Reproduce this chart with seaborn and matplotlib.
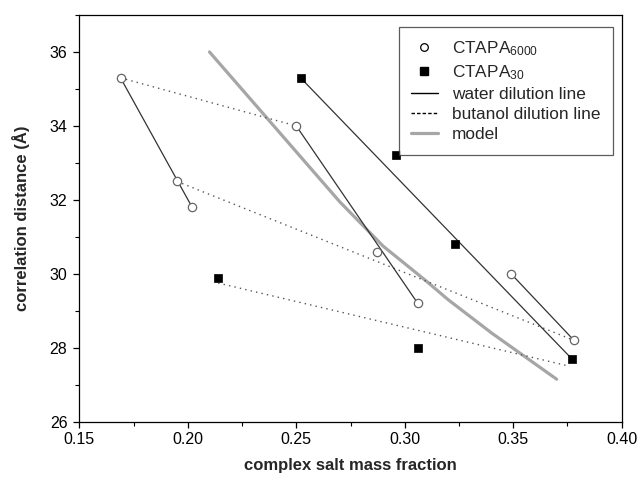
import numpy as np
import pandas as pd
import matplotlib
matplotlib.use("Agg")
import matplotlib.pyplot as plt
from matplotlib.lines import Line2D
from matplotlib.ticker import MultipleLocator
import seaborn as sns

# ---- data ----
ctapa6000_x = [0.169, 0.195, 0.202, 0.250, 0.287, 0.306, 0.349, 0.378]
ctapa6000_y = [35.3, 32.5, 31.8, 34.0, 30.6, 29.2, 30.0, 28.2]

ctapa30_x = [0.252, 0.296, 0.323, 0.377, 0.214, 0.306]
ctapa30_y = [35.3, 33.2, 30.8, 27.7, 29.9, 28.0]

# water dilution lines (solid), one segment each: (x0, x1), (y0, y1)
water_x = [(0.169, 0.202), (0.250, 0.306), (0.252, 0.377), (0.349, 0.378)]
water_y = [(35.3, 31.8), (34.0, 29.2), (35.3, 27.7), (30.0, 28.2)]

# butanol dilution lines (dotted)
butanol_x = [(0.169, 0.250), (0.195, 0.378), (0.214, 0.376)]
butanol_y = [(35.3, 34.0), (32.5, 28.2), (29.75, 27.5)]

# model curve
model_x = [0.210, 0.230, 0.250, 0.270, 0.290, 0.310, 0.320, 0.340, 0.370]
model_y = [36.0, 34.65, 33.3, 31.95, 30.75, 29.8, 29.3, 28.4, 27.15]

legend_labels = [r"CTAPA$_{6000}$", r"CTAPA$_{30}$", "water dilution line",
                 "butanol dilution line", "model"]
x_label = "complex salt mass fraction"
y_label = "correlation distance (Å)"


def segments_df(xs, ys):
    rows = []
    for i, (sx, sy) in enumerate(zip(xs, ys)):
        for xv, yv in zip(sx, sy):
            rows.append({"seg": i, "x": xv, "y": yv})
    return pd.DataFrame(rows)


sns.set_style("ticks")
plt.rcParams["font.family"] = ["Liberation Sans", "DejaVu Sans"]
plt.rcParams["mathtext.default"] = "regular"

fig = plt.figure(figsize=(6.38, 4.82), dpi=100)
ax = fig.add_axes([0.1243, 0.1251, 0.8502, 0.8438])

water_df = segments_df(water_x, water_y)
butanol_df = segments_df(butanol_x, butanol_y)
model_df = pd.DataFrame({"x": model_x, "y": model_y})

sns.lineplot(data=model_df, x="x", y="y", color="#a6a6a6", lw=2.3,
             sort=False, estimator=None, ax=ax, legend=False, zorder=2)
sns.lineplot(data=butanol_df, x="x", y="y", units="seg", estimator=None,
             sort=False, color="#555555", lw=1.0, dashes=False, ax=ax,
             legend=False, zorder=3)
for ln in ax.lines[1:]:
    ln.set_dashes((1.0, 3.0))
sns.lineplot(data=water_df, x="x", y="y", units="seg", estimator=None,
             sort=False, color="#333333", lw=0.9, ax=ax, legend=False, zorder=4)

sns.scatterplot(x=ctapa6000_x, y=ctapa6000_y, marker="o", s=36,
                facecolor="white", edgecolor="#666666", linewidth=0.9,
                ax=ax, zorder=5)
sns.scatterplot(x=ctapa30_x, y=ctapa30_y, marker="s", s=30,
                color="black", edgecolor="black", linewidth=0.5,
                ax=ax, zorder=5)

ax.set_xlim(0.15, 0.40)
ax.set_ylim(26, 37)
ax.xaxis.set_major_locator(MultipleLocator(0.05))
ax.xaxis.set_minor_locator(MultipleLocator(0.025))
ax.yaxis.set_major_locator(MultipleLocator(2))
ax.yaxis.set_minor_locator(MultipleLocator(1))
ax.set_xticklabels([f"{v:.2f}" for v in ax.get_xticks()])
ax.set_xlim(0.15, 0.40)

for sp in ax.spines.values():
    sp.set_visible(True)
    sp.set_color("black")
    sp.set_linewidth(0.9)

ax.tick_params(which="major", direction="out", length=4.5, width=0.9,
               labelsize=11.5, color="black", labelcolor="black", pad=3)
ax.tick_params(axis="y", which="major", pad=4)
ax.tick_params(which="minor", direction="out", length=2.8, width=0.8,
               color="black")
ax.tick_params(top=False, right=False, which="both")

ax.set_xlabel(x_label, fontsize=12, fontweight="bold", labelpad=8)
ax.set_ylabel(y_label, fontsize=12, fontweight="bold", labelpad=14)

handles = [
    Line2D([], [], ls="none", marker="o", ms=5.5, mfc="white", mec="black", mew=0.9),
    Line2D([], [], ls="none", marker="s", ms=5.5, mfc="black", mec="black"),
    Line2D([], [], color="black", lw=1.0),
    Line2D([], [], color="black", lw=1.0, dashes=(2.5, 1.5)),
    Line2D([], [], color="#a6a6a6", lw=2.3),
]
leg = ax.legend(handles, legend_labels, loc="upper right",
                bbox_to_anchor=(0.983, 0.970), fontsize=12.4,
                frameon=True, fancybox=False, edgecolor="#333333",
                handlelength=1.6, handletextpad=0.8, labelspacing=0.3,
                borderpad=0.7, borderaxespad=0.0)
leg.get_frame().set_linewidth(0.9)

fig.savefig("out.png", dpi=100)
